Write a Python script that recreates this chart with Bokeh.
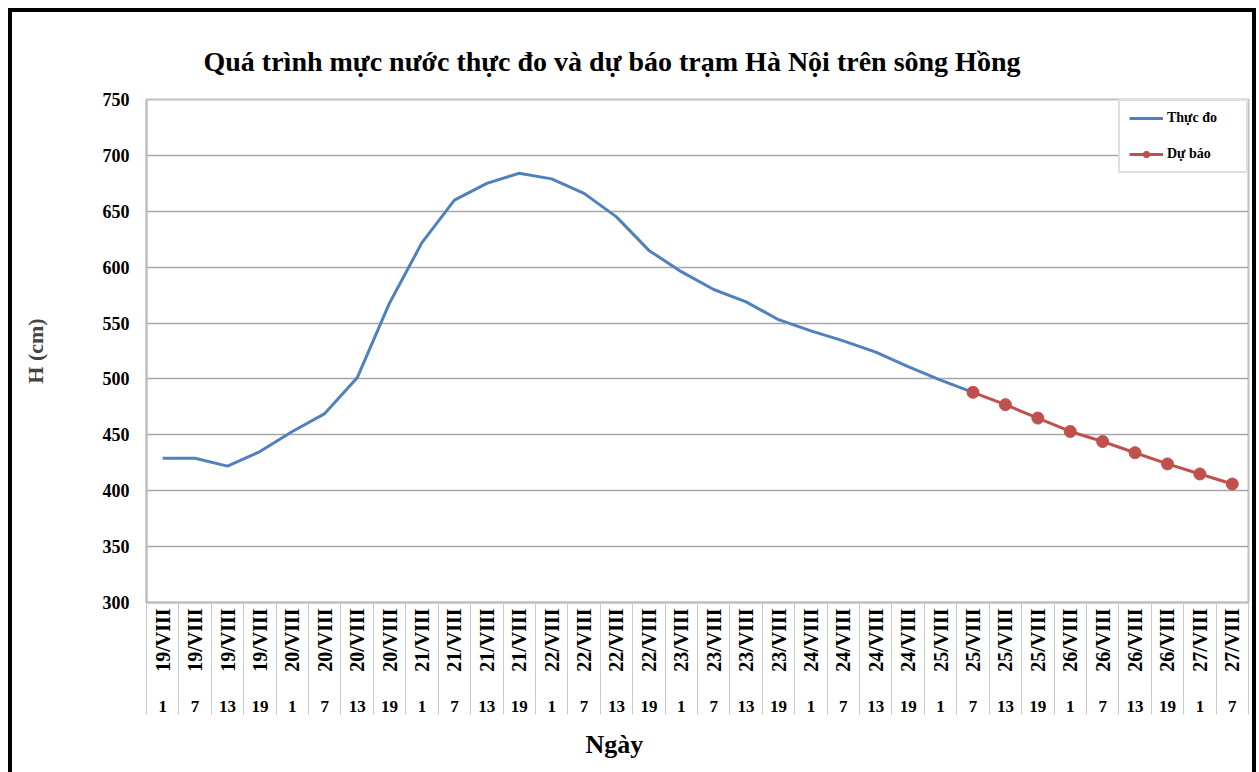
import math
from bokeh.plotting import figure
from bokeh.models import (FixedTicker, LinearAxis, Range1d, Title, Legend, LegendItem)
from bokeh.embed import file_html
from bokeh.resources import INLINE

# ---- data ----
days = (["19/VIII"] * 4 + ["20/VIII"] * 4 + ["21/VIII"] * 4 + ["22/VIII"] * 4 +
        ["23/VIII"] * 4 + ["24/VIII"] * 4 + ["25/VIII"] * 4 + ["26/VIII"] * 4 +
        ["27/VIII"] * 2)
hours = [1, 7, 13, 19] * 8 + [1, 7]

observed = [429, 429, 422, 435, 453, 469, 501, 568, 622, 660, 675, 684, 679,
            666, 645, 615, 596, 580, 569, 553, 543, 534, 524, 511, 499, 488]
forecast = [488, 477, 465, 453, 444, 434, 424, 415, 406]
forecast_start = 25

title_text = "Quá trình mực nước thực đo và dự báo trạm Hà Nội trên sông Hồng"
y_label = "H (cm)"
x_label = "Ngày"
series_names = ["Thực đo", "Dự báo"]

FONT = "Liberation Serif"
GRID = "#a6a6a6"
FRAME = "#bfbfbf"
SEP = "#c8c8c8"

n = len(days)
idx = list(range(n))
bounds = [i - 0.5 for i in range(n + 1)]
obs_x = idx[:len(observed)]
fc_x = idx[forecast_start:forecast_start + len(forecast)]

p = figure(frame_width=1102, frame_height=503,
           x_range=Range1d(-0.5, n - 0.5), y_range=Range1d(300, 750),
           output_backend="svg", toolbar_location=None,
           min_border_left=134, min_border_right=4, min_border_top=87,
           min_border_bottom=0)
p.styles = {"border": "4px solid black", "margin-left": "8px", "margin-top": "8px"}
p.background_fill_color = "white"
p.border_fill_color = "white"
p.outline_line_color = FRAME
p.outline_line_width = 2

# title
p.title = Title(text=title_text, align="left", offset=57,
                text_font=FONT, text_font_size="28px", text_font_style="bold",
                text_color="black", standoff=45)

# y axis
p.yaxis.ticker = FixedTicker(ticks=list(range(300, 751, 50)))
p.yaxis.axis_label = y_label
p.yaxis.axis_label_text_font = FONT
p.yaxis.axis_label_text_font_size = "22px"
p.yaxis.axis_label_text_font_style = "bold"
p.yaxis.axis_label_standoff = 52
p.yaxis.major_label_text_font = FONT
p.yaxis.major_label_text_font_size = "18px"
p.yaxis.major_label_text_font_style = "bold"
p.yaxis.major_label_text_color = "black"
p.yaxis.major_label_standoff = 17
p.yaxis.major_tick_out = 0
p.yaxis.major_tick_in = 0
p.yaxis.minor_tick_out = 0
p.yaxis.minor_tick_in = 0
p.yaxis.axis_line_color = FRAME
p.yaxis.axis_line_width = 2

p.ygrid.grid_line_color = GRID
p.ygrid.grid_line_width = 1.5
p.xgrid.grid_line_color = None

# x axis 1: dates (rotated, reading bottom to top)
xa = p.xaxis[0]
xa.ticker = FixedTicker(ticks=idx, minor_ticks=[])
xa.major_label_overrides = {i: d for i, d in enumerate(days)}
xa.major_label_orientation = math.pi / 2
xa.major_label_text_font = FONT
xa.major_label_text_font_size = "20px"
xa.major_label_text_font_style = "bold"
xa.major_label_text_color = "black"
xa.major_label_standoff = 6
xa.major_tick_out = 0
xa.major_tick_in = 0
xa.minor_tick_in = 0
xa.minor_tick_out = 0
xa.axis_line_color = FRAME
xa.axis_line_width = 2

# x axis 2: hours
xh = LinearAxis(ticker=FixedTicker(ticks=idx, minor_ticks=[]))
xh.major_label_overrides = {i: str(h) for i, h in enumerate(hours)}
xh.major_label_text_font = FONT
xh.major_label_text_font_size = "17px"
xh.major_label_text_font_style = "bold"
xh.major_label_text_color = "black"
xh.major_label_standoff = 26
xh.major_tick_out = 0
xh.major_tick_in = 0
xh.minor_tick_out = 0
xh.minor_tick_in = 0
xh.axis_line_color = None
p.add_layout(xh, "below")

# x axis 3: category separators drawn upward to the frame
xs = LinearAxis(ticker=FixedTicker(ticks=[], minor_ticks=bounds))
xs.major_tick_out = 0
xs.major_tick_in = 0
xs.minor_tick_out = 0
xs.minor_tick_in = 112
xs.minor_tick_line_color = SEP
xs.minor_tick_line_width = 1
xs.axis_line_color = None
xs.major_label_text_font_size = "0px"
p.add_layout(xs, "below")

p.add_layout(Title(text=x_label, align="left", offset=439, text_font=FONT,
                   text_font_size="26px", text_font_style="bold",
                   text_color="black", standoff=27), "below")

# series
l_obs = p.line(obs_x, observed, line_color="#4f81bd", line_width=3)
l_fc = p.line(fc_x, forecast, line_color="#c0504d", line_width=3)
s_fc = p.scatter(fc_x, forecast, size=12, fill_color="#c0504d",
                 line_color="#c0504d")

legend = Legend(items=[LegendItem(label=series_names[0], renderers=[l_obs]),
                       LegendItem(label=series_names[1], renderers=[l_fc, s_fc])],
                location="top_right", margin=0, padding=9, spacing=20,
                glyph_width=34, glyph_height=16, label_standoff=4,
                label_width=70,
                label_text_font=FONT, label_text_font_size="14px",
                label_text_font_style="bold", label_text_color="black",
                label_height=16,
                border_line_color=FRAME, border_line_width=2,
                background_fill_color="white", background_fill_alpha=1)
p.add_layout(legend)

open("out.html", "w").write(file_html(p, INLINE))
